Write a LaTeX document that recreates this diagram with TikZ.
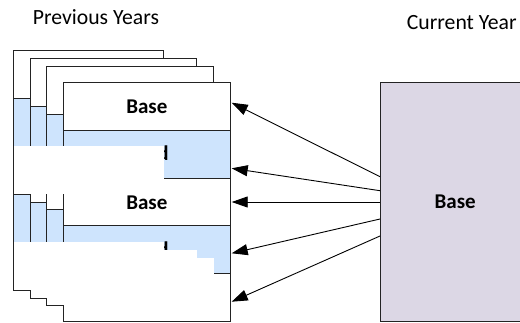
\documentclass[tikz,border=0pt]{standalone}
\usepackage{fontspec}
\setmainfont{Carlito}
\usetikzlibrary{arrows.meta}
\definecolor{pageblue}{RGB}{206,228,253}
\definecolor{lav}{RGB}{220,215,229}
\definecolor{edge}{RGB}{35,35,35}
\tikzset{
  pageframe/.style={draw=edge, line width=1pt},
  mask/.style={fill=white, draw=none},
  arr/.style={draw=black, line width=0.9pt, -{Triangle[length=16pt,width=11pt]}},
  lbl/.style={font=\fontsize{21.7}{25}\selectfont, inner sep=0pt},
  blbl/.style={font=\bfseries\fontsize{21}{25}\selectfont, inner sep=0pt},
}
\newcommand\pagestack[3]{%
  \fill[white] (#1,#2) rectangle (#3,#2+239.4);
  \fill[pageblue] (#1,#2+47.88) rectangle (#3,#2+95.76);
  \fill[pageblue] (#1,#2+143.64) rectangle (#3,#2+191.52);
  \foreach \k in {1,2,3,4} {\draw[pageframe] (#1,#2+47.88*\k) -- (#3,#2+47.88*\k);}
  \draw[pageframe] (#1,#2) rectangle (#3,#2+239.4);
}
\begin{document}
\begin{tikzpicture}[x=1pt,y=-1pt]
\clip (0,0) rectangle (520,322);
\fill[white] (0,0) rectangle (520,322);
% titles
\node[lbl, anchor=base west] (prev) at (32.7,24.8) {Previous Years};
\node[lbl, anchor=base west] (curt) at (406.7,29) {Current Year};
% stacked pages
\pagestack{13.3}{50.7}{163.3}
\pagestack{30.7}{58.7}{196.7}
\pagestack{46.7}{66.3}{213.3}
\pagestack{63.3}{82.3}{230.3}
\node[blbl, anchor=base] (b1) at (146.8,113.3) {Base};
\node[blbl, anchor=base] (b3) at (146.8,209) {Base};
\node[blbl, anchor=base east] (d2) at (168.8,160.5) {d};
\node[blbl, anchor=base east] (d4) at (168.8,256.5) {d};
% white masks lying over the stack
\path[mask] (13.8,146.0) rectangle (164.2,193.8);
\path[mask] (13.8,241.9) rectangle (164.2,289.6);
\path[mask] (31.2,249.9) rectangle (197.2,297.6);
\path[mask] (47.2,257.6) rectangle (213.8,305.2);
% current year box
\node[draw=edge, line width=1pt, fill=lav, anchor=north west, minimum width=149.4pt, minimum height=238.4pt, inner sep=0pt, blbl] (cur) at (380,82.3) {Base};
% arrow ends
\coordinate (s1) at (380,176.7);
\coordinate (s2) at (380,190.7);
\coordinate (s3) at (380,202);
\coordinate (s4) at (380,219);
\coordinate (s5) at (380,236);
\coordinate (t1) at (231.7,102.7);
\coordinate (t2) at (231.7,168.3);
\coordinate (t3) at (231.7,202);
\coordinate (t4) at (231.7,253.3);
\coordinate (t5) at (231.7,301.7);
\foreach \i in {1,...,5} {\draw[arr] (s\i) -- (t\i);}
\end{tikzpicture}
\end{document}
